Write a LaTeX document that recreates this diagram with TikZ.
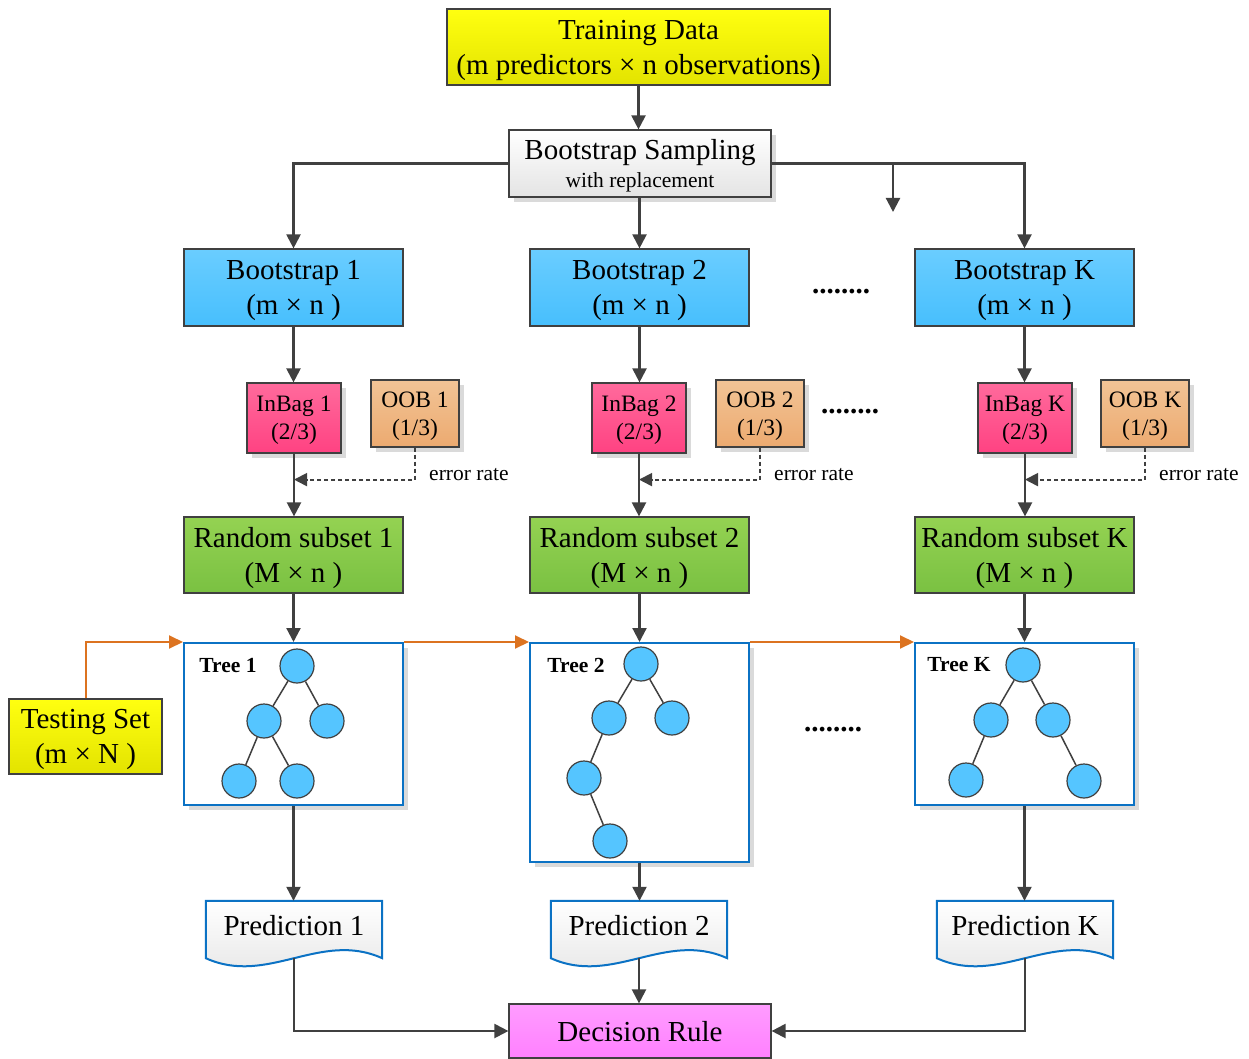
\documentclass[tikz,border=0pt]{standalone}
\usepackage{fontspec}
\setmainfont{Liberation Serif}
\usetikzlibrary{arrows.meta,shadows,calc}
\definecolor{ln}{HTML}{404040}
\definecolor{ylT}{HTML}{FFFF10}
\definecolor{ylB}{HTML}{E3E300}
\definecolor{blT}{HTML}{6ACDFF}
\definecolor{blB}{HTML}{47BFFD}
\definecolor{pkT}{HTML}{FF6A9C}
\definecolor{pkB}{HTML}{FF4282}
\definecolor{orT}{HTML}{F2C496}
\definecolor{orB}{HTML}{ECAA70}
\definecolor{grT}{HTML}{94D252}
\definecolor{grB}{HTML}{7AC142}
\definecolor{gyB}{HTML}{E4E4E4}
\definecolor{mgT}{HTML}{FF9CFF}
\definecolor{mgB}{HTML}{FF80FF}
\definecolor{trb}{HTML}{0B72C4}
\definecolor{cir}{HTML}{55C5FF}
\definecolor{org}{HTML}{DC7320}
\definecolor{shd}{HTML}{DADADA}
\tikzset{
  x=1pt,y=-1pt,
  base/.style={draw=ln, line width=1.2pt, inner sep=0pt, align=center, text depth=0pt,
    font=\fontsize{29}{35}\selectfont},
  shad/.style={drop shadow={shadow xshift=5pt,shadow yshift=-5pt,fill=shd,opacity=1}},
  ybox/.style={base, top color=ylT, bottom color=ylB},
  gbox/.style={base, shad, top color=white, bottom color=gyB},
  bbox/.style={base, top color=blT, bottom color=blB, minimum width=219, minimum height=77},
  ibox/.style={base, shad, top color=pkT, bottom color=pkB, minimum width=94, minimum height=70,
    font=\fontsize{23.5}{28}\selectfont},
  obox/.style={base, shad, top color=orT, bottom color=orB, minimum width=88, minimum height=67,
    font=\fontsize{23.5}{28}\selectfont},
  rbox/.style={base, top color=grT, bottom color=grB, minimum width=219, minimum height=76},
  tbox/.style={draw=trb, line width=2pt, fill=white, shad, inner sep=0pt, minimum width=219},
  tlab/.style={inner sep=0pt, font=\fontsize{21.5}{26}\selectfont\bfseries},
  cnode/.style={circle, draw=ln, line width=1.2pt, fill=cir, minimum size=34, inner sep=0pt},
  cedge/.style={draw=ln, line width=1.5pt},
  pnode/.style={inner sep=0pt, minimum width=176, minimum height=49,
    font=\fontsize{29}{35}\selectfont},
  pshape/.style={draw=trb, line width=2pt, top color=white, bottom color=gyB},
  small/.style={inner sep=0pt, font=\fontsize{21.5}{26}\selectfont},
  dots/.style={inner sep=0pt, font=\fontsize{29}{35}\selectfont\bfseries},
  arr/.style={draw=ln, line width=2.2pt, -{Triangle[length=14pt,width=14pt]}},
  dsh/.style={draw=ln, line width=1.8pt, dash pattern=on 4pt off 3pt, -{Triangle[length=13pt,width=13pt]}},
  oarr/.style={draw=org, line width=2pt, -{Triangle[length=14pt,width=13pt]}},
}
\begin{document}
\begin{tikzpicture}
\useasboundingbox (0,0) rectangle (1249,1059);
% top
\node[ybox, minimum width=383, minimum height=76] (td) at (638.5,47)
  {Training Data\\(m predictors × n observations)};
\node[gbox, minimum width=262, minimum height=67] (bs) at (640,163.5)
  {Bootstrap Sampling\\[-7pt]{\fontsize{21.5}{26}\selectfont with replacement}};
% bootstraps
\node[bbox] (b1) at (293.5,287.5) {Bootstrap 1\\(m × n )};
\node[bbox] (b2) at (639.5,287.5) {Bootstrap 2\\(m × n )};
\node[bbox] (bK) at (1024.5,287.5) {Bootstrap K\\(m × n )};
\node[dots] (d1) at (841,292) {........};
% inbag / oob
\node[ibox] (ib1) at (294,418) {InBag 1\\(2/3)};
\node[obox] (o1) at (415,413.5) {OOB 1\\(1/3)};
\node[ibox] (ib2) at (639,418) {InBag 2\\(2/3)};
\node[obox] (o2) at (760,413.5) {OOB 2\\(1/3)};
\node[ibox] (ibK) at (1025,418) {InBag K\\(2/3)};
\node[obox] (oK) at (1145,413.5) {OOB K\\(1/3)};
\node[dots] (d2) at (850,412) {........};
\node[small, anchor=west] (er1) at (429,475) {error rate};
\node[small, anchor=west] (er2) at (774,475) {error rate};
\node[small, anchor=west] (erK) at (1159,475) {error rate};
% random subsets
\node[rbox] (r1) at (293.5,555) {Random subset 1\\(M × n )};
\node[rbox] (r2) at (639.5,555) {Random subset 2\\(M × n )};
\node[rbox] (rK) at (1024.5,555) {Random subset K\\(M × n )};
% trees
\node[tbox, minimum height=162] (t1) at (293.5,724) {};
\node[tbox, minimum height=219] (t2) at (639.5,752.5) {};
\node[tbox, minimum height=162] (tK) at (1024.5,724) {};
\node[dots] (d3) at (833,730) {........};
\node[ybox, minimum width=153, minimum height=75] (ts) at (85.5,736.5) {Testing Set\\(m × N )};
% predictions
\node[pnode] (p1) at (294,925.5) {};
\node[pnode] (p2) at (639,925.5) {};
\node[pnode] (pK) at (1025,925.5) {};
\foreach \p in {p1,p2,pK}{
  \path[pshape] (\p.north west) -- (\p.north east) -- ($(\p.south east)+(0,8)$)
    .. controls +(-62,-28) and +(62,28) .. ($(\p.south west)+(0,8)$) -- cycle;
  \coordinate (\p b) at ($(\p.south)+(0,8)$);
}
\node[pnode] at (p1) {Prediction 1};
\node[pnode] at (p2) {Prediction 2};
\node[pnode] at (pK) {Prediction K};
\node[base, top color=mgT, bottom color=mgB, minimum width=262, minimum height=54] (dr) at (640,1031) {Decision Rule};
% connectors top
\draw[arr] (td.south) -- (td.south |- bs.north);
\draw[arr] (bs.west) -| (b1.north);
\draw[arr] (bs.east) -| (bK.north);
\draw[arr] (b2.north |- bs.south) -- (b2.north);
\coordinate (br) at (893,163.5);
\coordinate (brend) at (893,212);
\draw[arr] (br) -- (brend);
% bootstrap -> inbag -> random
\foreach \b/\i/\o/\r/\t/\p in {b1/ib1/o1/r1/t1/p1, b2/ib2/o2/r2/t2/p2, bK/ibK/oK/rK/tK/pK}{
  \draw[arr] (\b.south) -- (\b.south |- \i.north);
  \draw[arr] (\i.south) -- (\i.south |- \r.north);
  \draw[dsh] (\o.south) |- ($(\i.south)+(0,26)$);
  \draw[arr] (\r.south) -- (\r.south |- \t.north);
  \draw[arr] (\t.south) -- (\t.south |- \p.north);
}
% testing set orange
\draw[oarr] (ts.north) |- (t1.north west);
\draw[oarr] (t1.north east) -- (t2.north west);
\draw[oarr] (t2.north east) -- (tK.north west);
% predictions -> decision
\draw[arr] (p1b) |- (dr.west);
\draw[arr] (p2b) -- (p2b |- dr.north);
\draw[arr] (pKb) |- (dr.east);
% tree 1
\node[tlab] (l1) at (228,665) {Tree 1};
\node[cnode] (a1) at (297,666) {};
\node[cnode] (a2) at (264,721) {};
\node[cnode] (a3) at (327,721) {};
\node[cnode] (a4) at (239,781) {};
\node[cnode] (a5) at (297,781) {};
\draw[cedge] (a1) -- (a2) (a1) -- (a3) (a2) -- (a4) (a2) -- (a5);
% tree 2
\node[tlab] (l2) at (576,665) {Tree 2};
\node[cnode] (c1) at (641,664) {};
\node[cnode] (c2) at (609,718) {};
\node[cnode] (c3) at (672,718) {};
\node[cnode] (c4) at (584,778) {};
\node[cnode] (c5) at (610,841) {};
\draw[cedge] (c1) -- (c2) (c1) -- (c3) (c2) -- (c4) (c4) -- (c5);
% tree K
\node[tlab] (lK) at (959,665) {Tree K};
\node[cnode] (k1) at (1023,665) {};
\node[cnode] (k2) at (991,720) {};
\node[cnode] (k3) at (1053,720) {};
\node[cnode] (k4) at (966,780) {};
\node[cnode] (k5) at (1084,781) {};
\draw[cedge] (k1) -- (k2) (k1) -- (k3) (k2) -- (k4) (k3) -- (k5);
\end{tikzpicture}
\end{document}
